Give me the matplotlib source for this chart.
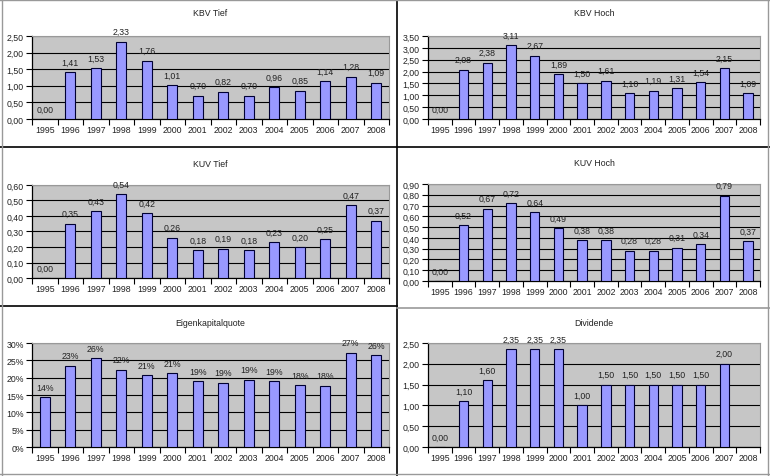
import numpy as np
import matplotlib
matplotlib.use("Agg")
import matplotlib.pyplot as plt
from matplotlib.ticker import FuncFormatter, MultipleLocator
from matplotlib.lines import Line2D

plt.rcParams['font.family'] = ['Liberation Sans', 'DejaVu Sans']

years = [str(y) for y in range(1995, 2009)]

kbv_tief = [0.00, 1.41, 1.53, 2.33, 1.76, 1.01, 0.70, 0.82, 0.70, 0.96, 0.85, 1.14, 1.28, 1.09]
kbv_hoch = [0.00, 2.08, 2.38, 3.11, 2.67, 1.89, 1.50, 1.61, 1.10, 1.19, 1.31, 1.54, 2.15, 1.09]
kuv_tief = [0.00, 0.35, 0.43, 0.54, 0.42, 0.26, 0.18, 0.19, 0.18, 0.23, 0.20, 0.25, 0.47, 0.37]
kuv_hoch = [0.00, 0.52, 0.67, 0.72, 0.64, 0.49, 0.38, 0.38, 0.28, 0.28, 0.31, 0.34, 0.79, 0.37]
ek_quote = [14.3, 23.4, 25.6, 22.3, 20.7, 21.3, 18.9, 18.6, 19.4, 18.9, 17.8, 17.7, 27.1, 26.4]
dividende = [0.00, 1.10, 1.60, 2.35, 2.35, 2.35, 1.00, 1.50, 1.50, 1.50, 1.50, 1.50, 2.00, np.nan]

W, H = 770, 477

# title, values, ymax, ystep, percent, plot box (left, top, right, bottom) in px
panels = [
    ("KBV Tief", kbv_tief, 2.5, 0.5, False, (32, 37, 389, 120)),
    ("KBV Hoch", kbv_hoch, 3.5, 0.5, False, (428, 37, 760, 120)),
    ("KUV Tief", kuv_tief, 0.6, 0.1, False, (32, 186, 389, 279)),
    ("KUV Hoch", kuv_hoch, 0.9, 0.1, False, (428, 185, 760, 282)),
    ("Eigenkapitalquote", ek_quote, 30, 5, True, (32, 344, 389, 448)),
    ("Dividende", dividende, 2.5, 0.5, False, (428, 344, 760, 448)),
]

fig = plt.figure(figsize=(W / 100, H / 100), dpi=100)
fig.patch.set_facecolor('white')


def comma(v, _=None):
    return f"{v:.2f}".replace('.', ',')


def pct(v, _=None):
    return f"{v:.0f}%"


for title, vals, ymax, ystep, is_pct, (l, t, r, b) in panels:
    ax = fig.add_axes([l / W, 1 - b / H, (r - l) / W, (b - t) / H])
    ax.set_facecolor('#c6c6c6')
    x = np.arange(len(years))
    ax.bar(x, vals, width=0.4, color='#9999ff', edgecolor='#000033', linewidth=0.8, zorder=3)
    ax.set_xlim(-0.5, len(years) - 0.5)
    ax.set_ylim(0, ymax)
    ax.yaxis.set_major_locator(MultipleLocator(ystep))
    ax.yaxis.set_major_formatter(FuncFormatter(pct if is_pct else comma))
    ax.grid(axis='y', color='black', linewidth=0.8, zorder=1)
    ax.set_xticks(x)
    ax.set_xticklabels(years)
    ax.set_xticks(np.arange(len(years) + 1) - 0.5, minor=True)
    ax.tick_params(axis='x', which='major', length=0, pad=4.5, labelsize=6.3, colors='#222222')
    ax.tick_params(axis='x', which='minor', length=4, width=0.8, direction='out')
    ax.tick_params(axis='y', length=4, width=0.8, labelsize=6.3, pad=2, colors='#222222')
    ax.tick_params(axis='y', colors='black', labelcolor='#222222')
    for side in ('top', 'right'):
        ax.spines[side].set_color('#999999')
        ax.spines[side].set_linewidth(0.8)
    for side in ('left', 'bottom'):
        ax.spines[side].set_color('black')
        ax.spines[side].set_linewidth(0.9)
    for xi, v in zip(x, vals):
        if np.isnan(v):
            continue
        label = pct(v) if is_pct else comma(v)
        ax.annotate(label, (xi, v), xytext=(0, 4), textcoords='offset points',
                    ha='center', va='bottom', fontsize=6.3, color='#222222',
                    annotation_clip=False)
    fig.text((l + r) / 2 / W, 1 - 14 / H if t < 100 else 1 - (t - 21) / H, title,
             ha='center', va='center', fontsize=6.3, color='#222222')

# panel frame lines
frame = [
    ((397, 397), (0, 477), 'black', 1.2),
    ((0, 770), (148, 148), 'black', 1.2),
    ((0, 397), (307, 307), 'black', 1.2),
    ((397, 770), (309, 309), '#999999', 1.2),
    ((2, 2), (0, 477), '#999999', 1.0),
    ((768, 768), (0, 477), '#999999', 1.0),
    ((0, 770), (1, 1), '#999999', 1.0),
    ((0, 770), (475, 475), '#999999', 1.0),
]
for xs, ys, c, lw in frame:
    fig.add_artist(Line2D([xx / W for xx in xs], [1 - yy / H for yy in ys],
                          color=c, linewidth=lw, transform=fig.transFigure))

fig.savefig('out.png', dpi=100)
